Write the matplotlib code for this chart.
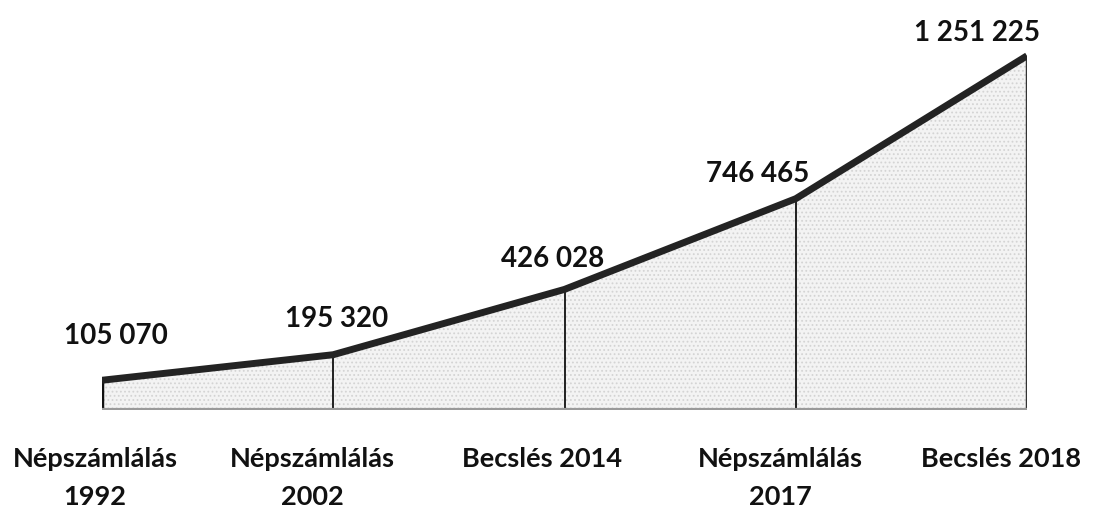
import matplotlib.pyplot as plt

categories = ["Népszámlálás\n1992", "Népszámlálás\n2002", "Becslés 2014",
              "Népszámlálás\n2017", "Becslés 2018"]
population = [105070, 195320, 426028, 746465, 1251225]
value_labels = ["105 070", "195 320", "426 028", "746 465", "1 251 225"]
# label offsets in pixels from each point (dx, dy to baseline)
label_offsets = [(14, 36), (3, 28), (-12, 22), (-38, 17), (-50, 15)]
cat_dx = [-7, -21, -22, -15, -26]

plt.rcParams['font.family'] = ['Lato', 'DejaVu Sans']
plt.rcParams['hatch.color'] = '#cfcfcf'
plt.rcParams['hatch.linewidth'] = 0.8

fig = plt.figure(figsize=(11.16, 5.07), dpi=100)
ax = fig.add_axes([102 / 1116, (507 - 410) / 507, (1027 - 102) / 1116, 368 / 507])

x = list(range(len(population)))
ax.fill_between(x, 0, population, facecolor='#f3f3f3', hatch='....', edgecolor='#d4d4d4', linewidth=0)
ax.plot(x, population, color='#232323', lw=5, solid_capstyle='butt', solid_joinstyle='round', zorder=4)

# vertical dividers
for i, v in enumerate(population):
    if i == 0:
        ax.vlines(i, 0, v, color='#111111', lw=2.5, zorder=3)
    elif i == len(population) - 1:
        ax.vlines(i, 0, v, color='#333333', lw=2.5, zorder=3)
    else:
        ax.vlines(i, 0, v, color='#111111', lw=1.3, zorder=3)
ax.hlines(0, 0, len(population) - 1, color='#9a9a9a', lw=3, zorder=3)

for i, (v, lab, off) in enumerate(zip(population, value_labels, label_offsets)):
    ax.annotate(lab, (i, v), xytext=off, textcoords='offset pixels',
                ha='center', va='baseline', fontsize=20, fontweight='bold', color='#111111',
                annotation_clip=False)

for i, (cat, dx) in enumerate(zip(categories, cat_dx)):
    for j, line in enumerate(cat.split("\n")):
        ax.annotate(line, (i, 0), xytext=(dx, -57 - 38 * j), textcoords='offset pixels',
                    ha='center', va='baseline', fontsize=19.5, fontweight='bold', color='#111111',
                    annotation_clip=False)

ax.set_xlim(0, len(population) - 1)
ax.set_ylim(0, 1.3e6)
ax.set_xticks([])
ax.set_yticks([])
for s in ax.spines.values():
    s.set_visible(False)

fig.savefig('out.png', dpi=100)
